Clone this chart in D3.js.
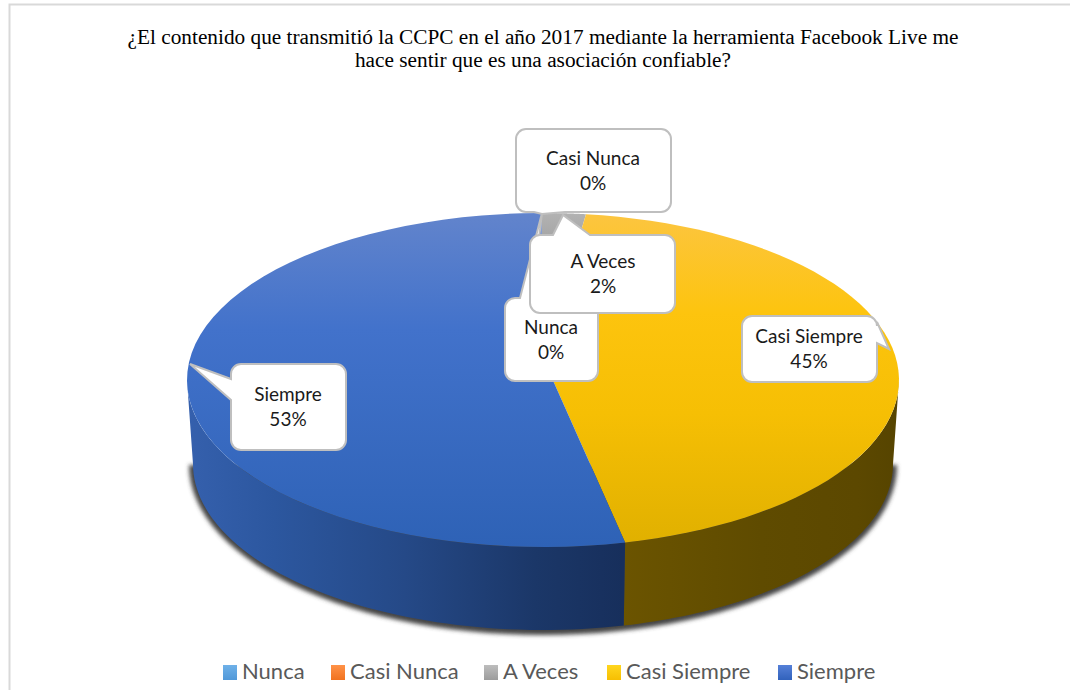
<!DOCTYPE html>
<html><head><meta charset="utf-8">
<script src="https://d3js.org/d3.v7.min.js"></script>
<style>html,body{margin:0;background:#fff}svg{display:block}</style></head>
<body><svg id="c" width="1070" height="690"></svg>
<script>
const categories=["Nunca","Casi Nunca","A Veces","Casi Siempre","Siempre"];
const values=[0,0,2.4,44.6,53.0];
const swatchTop=["#6fb1e8","#ff9248","#bdbdbd","#ffd61f","#5580d8"];
const swatchBottom=["#4f97d8","#f0701c","#9a9a9a","#f6bd00","#2f60ba"];
const titleLines=["¿El contenido que transmitió la CCPC en el año 2017 mediante la herramienta Facebook Live me","hace sentir que es una asociación confiable?"];

const svg=d3.select("#c");
const defs=svg.append("defs");
function grad(id,stops,x1,y1,x2,y2){
  const g=defs.append("linearGradient").attr("id",id).attr("gradientUnits","userSpaceOnUse")
    .attr("x1",x1).attr("y1",y1).attr("x2",x2).attr("y2",y2);
  stops.forEach(([o,c])=>g.append("stop").attr("offset",o).attr("stop-color",c));
}
const topE={cx:543,cy:380,rx:356,ry:167,px:543,py:358};
const botE={cx:543,cy:464,rx:350,ry:166};
const shadowE={cx:543,cy:465,rx:354,ry:170};
grad("tB",[[0,"#6284cc"],[.35,"#4272cb"],[1,"#2e62b6"]],0,213,0,547);
grad("tY",[[0,"#fcc540"],[.3,"#fdc40e"],[.6,"#f6bf04"],[1,"#e0b000"]],0,213,0,547);
grad("tG",[[0,"#b2b2b2"],[1,"#a5a5a5"]],0,213,0,240);
grad("wB",[[0,"#3560ad"],[.2,"#2c579f"],[.5,"#254987"],[.8,"#1b3768"],[1,"#172f5c"]],187,0,623,0);
grad("wY",[[0,"#6b5400"],[.5,"#5f4b00"],[.85,"#5c4800"],[1,"#564400"]],623,0,899,0);
const fl=defs.append("filter").attr("id","sh").attr("x","-10%").attr("y","-10%").attr("width","120%").attr("height","120%");
fl.append("feGaussianBlur").attr("stdDeviation",2.2);
categories.forEach((c,i)=>grad("lg"+i,[[0,swatchTop[i]],[1,swatchBottom[i]]],0,665,0,681));

// frame
svg.append("path").attr("d","M9.5 690V4.5H1070").attr("fill","none").attr("stroke","#d9d9d9").attr("stroke-width",2);

// title
svg.append("g").selectAll("text").data(titleLines).join("text")
  .attr("x",543).attr("y",(d,i)=>44+i*23).attr("text-anchor","middle")
  .attr("font-family","'Liberation Serif'").attr("font-size",21.3).attr("fill","#000").text(d=>d);

// pie: a perspective warp of the slice angles, front of the disc is stretched
const Q=0.83;
const warp=a=>2*Math.atan2(Math.sin(a/2)*Q,Math.cos(a/2));
const pieGen=d3.pie().sort(null).value(d=>d).startAngle(-0.005).endAngle(2*Math.PI-0.005);
const arcs=pieGen(values).map(d=>({...d,startAngle:warp(d.startAngle),endAngle:warp(d.endAngle)}));
const P=(e,a)=>[e.cx+e.rx*Math.sin(a),e.cy-e.ry*Math.cos(a)];
const samples=(a0,a1)=>d3.range(0,61).map(i=>a0+(a1-a0)*i/60);
const line=d3.line();
function wallPath(a0,a1){
  const s=samples(a0,a1);
  return line([...s.map(a=>P(topE,a)),...s.slice().reverse().map(a=>P(botE,a))])+"Z";
}
function facePath(a0,a1){
  return line([[topE.px,topE.py],...samples(a0,a1).map(a=>P(topE,a))])+"Z";
}
const H=Math.PI/2;
// shadow
const g=svg.append("g");
g.append("path").attr("d",line(samples(H,3*H).map(a=>P(shadowE,a)))+"Z")
  .attr("fill","#444").attr("filter","url(#sh)");
const wallFill={3:"url(#wY)",4:"url(#wB)"};
arcs.forEach((d,i)=>{
  if(!wallFill[i])return;
  const a0=Math.max(d.startAngle,H),a1=Math.min(d.endAngle,3*H);
  g.append("path").attr("d",wallPath(a0,a1)).attr("fill",wallFill[i]);
});
const faceFill={2:"url(#tG)",3:"url(#tY)",4:"url(#tB)"};
arcs.forEach((d,i)=>{
  if(!faceFill[i])return;
  g.append("path").attr("d",facePath(d.startAngle,d.endAngle)).attr("fill",faceFill[i]);
});

// callouts
const callouts=[
 {i:0,x:505,y:298,w:93,h:83,tip:[542,213],base:[[520,298],[532,298]],tx:551,ty:334},
 {i:4,x:231,y:364,w:115,h:86,tip:[190,364],base:[[231,400],[231,379]],tx:288,ty:401},
 {i:3,x:742,y:316,w:135,h:66,tip:[889,349],base:[[877,322],[877,343]],tx:809,ty:343},
 {i:1,x:516,y:129,w:155,h:83,tip:[542,214],base:[[534,212],[565,212]],tx:593,ty:165},
 {i:2,x:530,y:235,w:145,h:78,tip:[563,215],base:[[553,235],[590,235]],tx:603,ty:268}
];
const fmt=d3.format(".0%");
const total=d3.sum(values);
function bubble(c){
  const r=10,{x,y,w,h}=c,[b0,b1]=c.base,t=c.tip;
  const p=d3.path();
  p.moveTo(x+r,y);
  if(b0[1]===y){p.lineTo(b0[0],y);p.lineTo(t[0],t[1]);p.lineTo(b1[0],y);}
  p.lineTo(x+w-r,y);p.arcTo(x+w,y,x+w,y+r,r);
  if(b0[0]===x+w){p.lineTo(x+w,b0[1]);p.lineTo(t[0],t[1]);p.lineTo(x+w,b1[1]);}
  p.lineTo(x+w,y+h-r);p.arcTo(x+w,y+h,x+w-r,y+h,r);
  if(b0[1]===y+h){p.lineTo(b1[0],y+h);p.lineTo(t[0],t[1]);p.lineTo(b0[0],y+h);}
  p.lineTo(x+r,y+h);p.arcTo(x,y+h,x,y+h-r,r);
  if(b0[0]===x){p.lineTo(x,b0[1]);p.lineTo(t[0],t[1]);p.lineTo(x,b1[1]);}
  p.lineTo(x,y+r);p.arcTo(x,y,x+r,y,r);p.closePath();
  return p.toString();
}
const cg=svg.append("g").selectAll("g").data(callouts).join("g");
cg.append("path").attr("d",bubble).attr("fill","#fff").attr("stroke","#bfbfbf").attr("stroke-width",2);
cg.append("text").attr("x",c=>c.tx).attr("y",c=>c.ty).attr("text-anchor","middle")
  .attr("font-family","Lato").attr("font-size",19).attr("fill","#1a1a1a").text(c=>categories[c.i]);
cg.append("text").attr("x",c=>c.tx).attr("y",c=>c.ty+25).attr("text-anchor","middle")
  .attr("font-family","Lato").attr("font-size",19).attr("fill","#1a1a1a").text(c=>fmt(values[c.i]/total));

// legend
const lx=d3.scaleOrdinal().domain(categories).range([223,331,484,607,778]);
const lg=svg.append("g").selectAll("g").data(categories).join("g").attr("transform",d=>`translate(${lx(d)},0)`);
lg.append("rect").attr("x",0).attr("y",665).attr("width",14).attr("height",15).attr("fill",(d,i)=>`url(#lg${i})`);
lg.append("text").attr("x",19).attr("y",679).attr("font-family","Lato").attr("font-size",22).attr("fill","#595959").text(d=>d);
</script></body></html>
